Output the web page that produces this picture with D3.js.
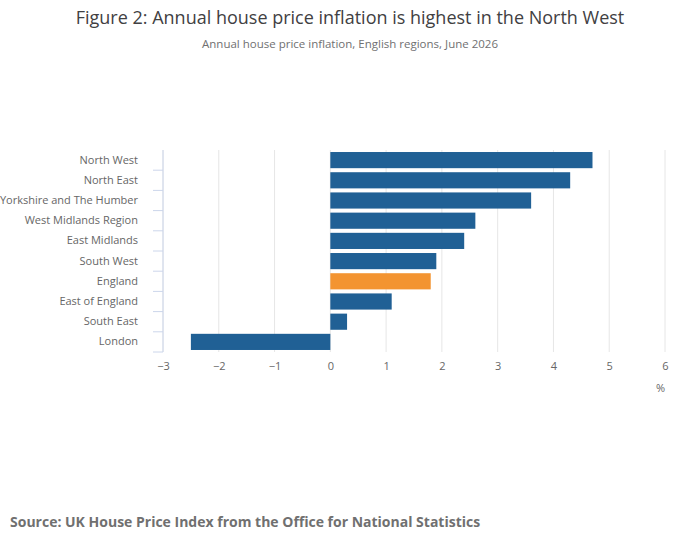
<!DOCTYPE html>
<html><head><meta charset="utf-8">
<script src="https://cdn.jsdelivr.net/npm/d3@7"></script>
<style>body{margin:0;background:#fff;font-family:"Open Sans",sans-serif}</style>
</head><body><svg id="c" width="700" height="549"></svg>
<script>
const categories=["North West","North East","Yorkshire and The Humber","West Midlands Region","East Midlands","South West","England","East of England","South East","London"];
const values=[4.7,4.3,3.6,2.6,2.4,1.9,1.8,1.1,0.3,-2.5];
const ticks=[-3,-2,-1,0,1,2,3,4,5,6];
const svg=d3.select("#c");
const x=d3.scaleLinear().domain([-3,6]).range([163,665]);
const y=d3.scaleBand().domain(categories).range([150,352]).paddingInner(0.2).paddingOuter(0.1);
svg.append("text").attr("x",350).attr("y",24).attr("text-anchor","middle").attr("font-size",18).attr("fill","#414042").text("Figure 2: Annual house price inflation is highest in the North West");
svg.append("text").attr("x",350).attr("y",48).attr("text-anchor","middle").attr("font-size",11.5).attr("fill","#707071").text("Annual house price inflation, English regions, June 2026");
svg.selectAll(".g").data(ticks).join("line").attr("x1",d=>x(d)).attr("x2",d=>x(d)).attr("y1",150).attr("y2",352).attr("stroke","#e6e6e6");
const xa=svg.append("g").attr("transform","translate(0,352)").call(d3.axisBottom(x).tickValues(ticks).tickSize(0).tickPadding(10).tickFormat(d3.format("d")));
xa.select(".domain").remove();
xa.selectAll("text").attr("font-size",11).attr("fill","#666").attr("font-family","Open Sans");
const ya=svg.append("g").attr("transform","translate(163,0)").call(d3.axisLeft(y).tickSize(10).tickPadding(5));
ya.select(".domain").attr("stroke","#ccd6eb").attr("d","M0,150V352");
ya.selectAll(".tick line").attr("stroke","#ccd6eb").attr("transform",`translate(0,${y.step()/2})`);
ya.selectAll("text").attr("font-size",11).attr("fill","#666").attr("font-family","Open Sans").attr("dx",-10);
svg.selectAll(".b").data(categories).join("rect")
 .attr("x",(d,i)=>x(Math.min(0,values[i]))).attr("width",(d,i)=>Math.abs(x(values[i])-x(0)))
 .attr("y",d=>y(d)).attr("height",y.bandwidth())
 .attr("fill",d=>d==="England"?"#f39431":"#206095");
svg.append("text").attr("x",665).attr("y",392).attr("text-anchor","end").attr("font-size",11).attr("fill","#666").text("%");
svg.append("text").attr("x",10).attr("y",527).attr("font-size",14).attr("font-weight","bold").attr("fill","#707070").text("Source: UK House Price Index from the Office for National Statistics");
</script></body></html>
